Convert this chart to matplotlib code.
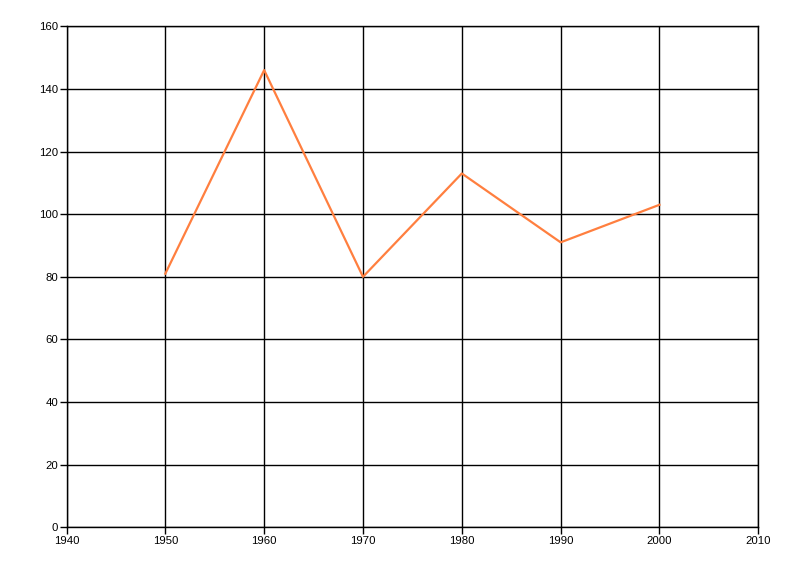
import matplotlib
matplotlib.use("Agg")
import matplotlib.pyplot as plt

years = [1950, 1960, 1970, 1980, 1990, 2000]
values = [81, 146, 80, 113, 91, 103]
x_ticks = [1940, 1950, 1960, 1970, 1980, 1990, 2000, 2010]
y_ticks = [0, 20, 40, 60, 80, 100, 120, 140, 160]

plt.rcParams['font.family'] = ['Liberation Sans', 'DejaVu Sans']

fig = plt.figure(figsize=(8, 5.76), dpi=100)
ax = fig.add_axes([66.5/800, 1-527.3/576, (758.3-66.5)/800, (527.3-26.3)/576])

ax.plot(years, values, color='#FF7F3F', linewidth=1.6, zorder=3)

ax.set_xlim(1940, 2010)
ax.set_ylim(0, 160)
ax.set_xticks(x_ticks)
ax.set_yticks(y_ticks)
ax.grid(True, color='black', linewidth=1.0)
ax.set_axisbelow(True)
for s in ax.spines.values():
    s.set_color('black')
    s.set_linewidth(1.0)
ax.tick_params(axis='both', length=5, width=1, color='black', labelsize=8.2, pad=1)

fig.savefig('out.png', dpi=100)
